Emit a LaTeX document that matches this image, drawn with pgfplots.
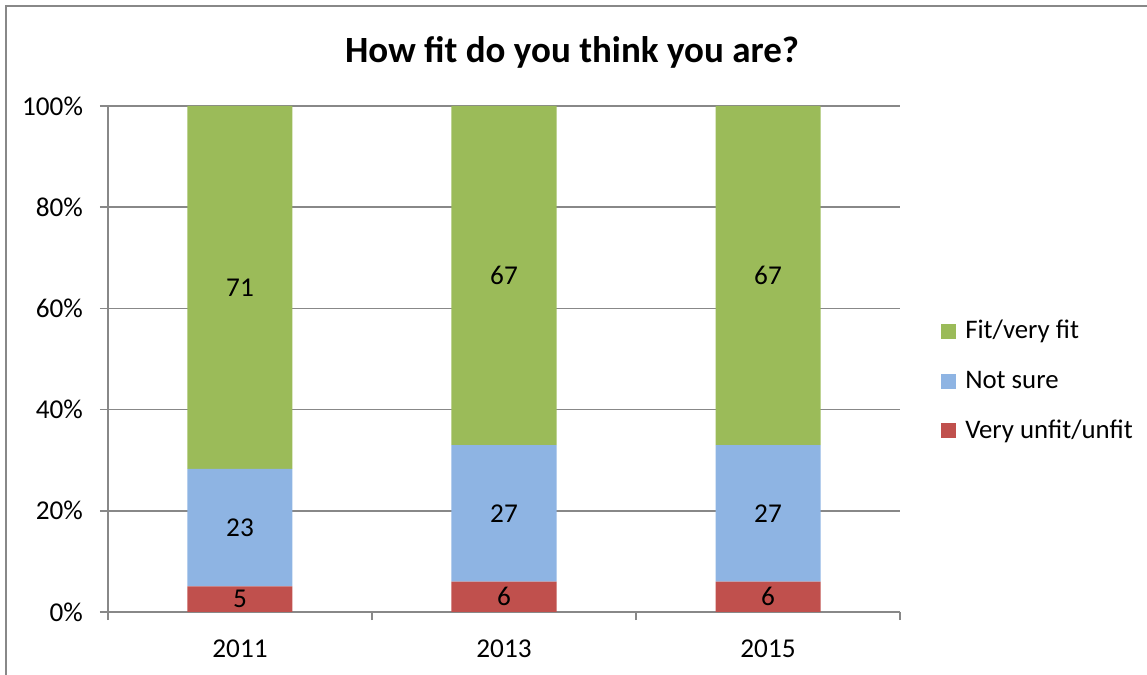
\documentclass[border=0pt]{standalone}
\usepackage{pgfplots}
\pgfplotsset{compat=1.18}
\usepackage{fontspec}
\setmainfont{Carlito}

\definecolor{cfit}{HTML}{9BBB59}
\definecolor{cnot}{HTML}{8EB4E3}
\definecolor{cunf}{HTML}{C0504D}
\definecolor{cgrid}{HTML}{888888}

% shares of each year, in percent of the year's total
\pgfplotstableread{
x unfit notsure fit
0 5.05 23.23 71.72
1 6 27 67
2 6 27 67
}\shares

% label positions (middle of each segment) and the printed values
\pgfplotstableread{
x y label
0 2.53 5
0 16.67 23
0 64.14 71
1 3 6
1 19.5 27
1 66.5 67
2 3 6
2 19.5 27
2 66.5 67
}\labels

\begin{document}
\begin{tikzpicture}
\useasboundingbox (-54pt,-31.5pt) rectangle (519.5pt,306pt);
\draw[cgrid, line width=1pt] (-50.75pt,-60pt) -- (-50.75pt,302.75pt) -- (560pt,302.75pt);

\node[font=\bfseries\fontsize{18.5}{22}\selectfont] at (232pt,280pt) {How fit do you think you are?};

\begin{axis}[
    at={(0,0)}, anchor=south west,
    scale only axis,
    width=396pt, height=253pt,
    ybar stacked,
    bar width=52.5pt,
    xmin=-0.5, xmax=2.5,
    ymin=0, ymax=100,
    axis lines*=left,
    axis line style={cgrid, line width=0.8pt, -},
    tick align=outside,
    major tick length=4pt,
    tick style={cgrid, line width=0.8pt},
    xtick={-0.5,0.5,1.5,2.5},
    xticklabels={},
    extra x ticks={0,1,2},
    extra x tick labels={2011,2013,2015},
    extra x tick style={major tick length=0pt, tick label style={yshift=-10.5pt}},
    ytick={0,20,40,60,80,100},
    yticklabel={\pgfmathprintnumber{\tick}\%},
    yticklabel style={xshift=-5pt},
    ymajorgrids=true,
    grid style={cgrid, line width=0.8pt},
    /pgf/number format/assume math mode=true,
    tick label style={font=\fontsize{13.6}{16}\selectfont, black},
    legend style={at={(1.044,0.593)}, anchor=north west, draw=none, fill=none,
        font=\fontsize{13.4}{16}\selectfont, row sep=10.5pt,
        legend cell align=left,
        nodes={inner xsep=4.5pt}},
    reverse legend,
    legend image code/.code={\fill[#1, draw=none] (0pt,-3.75pt) rectangle (7.5pt,3.75pt);},
]
\addplot[fill=cunf, draw=none] table[x=x, y=unfit] {\shares};
\addlegendentry{Very unfit/unfit}
\addplot[fill=cnot, draw=none] table[x=x, y=notsure] {\shares};
\addlegendentry{Not sure}
\addplot[fill=cfit, draw=none] table[x=x, y=fit] {\shares};
\addlegendentry{Fit/very fit}
\end{axis}

\begin{axis}[
    at={(0,0)}, anchor=south west,
    scale only axis,
    width=396pt, height=253pt,
    xmin=-0.5, xmax=2.5,
    ymin=0, ymax=100,
    hide axis,
]
\addplot[draw=none, mark=none, nodes near coords, point meta=explicit symbolic,
    nodes near coords align={center},
    every node near coord/.append style={font=\fontsize{13.6}{16}\selectfont, anchor=center}]
    table[x=x, y=y, meta=label] {\labels};
\end{axis}
\end{tikzpicture}
\end{document}
